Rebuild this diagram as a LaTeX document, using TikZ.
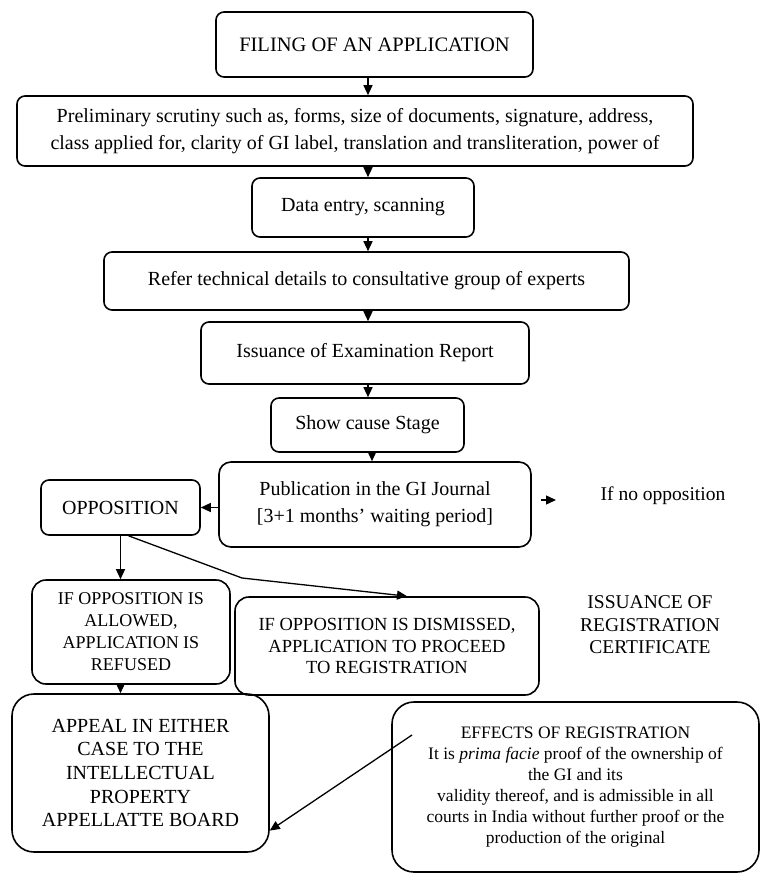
\documentclass[tikz,border=0pt]{standalone}
\usepackage{fontspec}
\setmainfont{Liberation Serif}
\usetikzlibrary{shapes.geometric, arrows, arrows.meta}
\tikzstyle{arrow} = [line width=1.3pt,->,>={Triangle[length=10pt,width=9pt]}]
\tikzstyle{stagebox} = [draw, line width=1.6pt, rounded corners=8pt, align=center, inner sep=0pt, font=\fontsize{20}{27}\selectfont]
\tikzstyle{capbox} = [stagebox, rounded corners=14pt, font=\fontsize{18}{22}\selectfont]
\tikzstyle{bigbox} = [stagebox, rounded corners=22pt]

\begin{document}
\begin{tikzpicture}[x=1pt,y=-1pt]
			\useasboundingbox (0,0) rectangle (760,883);
			%main column
			\node[stagebox, minimum width=317pt, minimum height=65pt, font=\fontsize{20.5}{27}\selectfont] (filing) at (374.5,44.5) {FILING OF AN APPLICATION};
			\node[stagebox, minimum width=676pt, minimum height=70pt] (prelim) at (355,131) {Preliminary scrutiny such as, forms, size of documents, signature, address,\\class applied for, clarity of GI label, translation and transliteration, power of};
			\node[stagebox, minimum width=222pt, minimum height=59pt] (data) at (363,207.5) {Data entry, scanning};
			\node[stagebox, minimum width=525pt, minimum height=58pt] (refer) at (366.5,281) {Refer technical details to consultative group of experts};
			\node[stagebox, minimum width=328pt, minimum height=62pt] (issue) at (365,353) {Issuance of Examination Report};
			\node[stagebox, minimum width=193pt, minimum height=54pt] (show) at (367.5,425) {Show cause Stage};
			\node[stagebox, minimum width=312pt, minimum height=85pt, rounded corners=12pt] (pub) at (375,504.5) {Publication in the GI Journal\\{}{[3+1 months' waiting period]}};
			
			%opposition branch
			\node[stagebox, minimum width=159pt, minimum height=55pt] (opp) at (120.5,507.5) {OPPOSITION};
			\node[capbox, minimum width=198pt, minimum height=104pt] (allowed) at (131,632) {IF OPPOSITION IS\\ALLOWED,\\APPLICATION IS\\REFUSED};
			\node[capbox, minimum width=304pt, minimum height=98pt, font=\fontsize{18.5}{21.5}\selectfont] (dismissed) at (387,646) {IF OPPOSITION IS DISMISSED,\\APPLICATION TO PROCEED\\TO REGISTRATION};
			\node[bigbox, minimum width=257pt, minimum height=158pt, font=\fontsize{20}{23.7}\selectfont] (appeal) at (140.5,773) {APPEAL IN EITHER\\CASE TO THE\\INTELLECTUAL\\PROPERTY\\APPELLATTE BOARD};
			
			%no opposition side
			\node[font=\fontsize{19.5}{23}\selectfont] (noopp) at (663,496) {If no opposition};
			\node[align=center, font=\fontsize{19.5}{22.5}\selectfont] (cert) at (650,625) {ISSUANCE OF\\REGISTRATION\\CERTIFICATE};
			\node[bigbox, minimum width=367pt, minimum height=170pt, font=\fontsize{17.5}{21}\selectfont] (effects) at (575.5,787) {EFFECTS OF REGISTRATION\\It is \textit{prima facie} proof of the ownership of\\the GI and its\\validity thereof, and is admissible in all\\courts in India without further proof or the\\production of the original};
			
			\coordinate (spine) at (368,0);
			\coordinate (oppbend) at (242,578);
			\coordinate (nostub) at (541,500);
			\coordinate (notip) at (556,500);
			\coordinate (fxstart) at (412,735);
			
			\draw[arrow] (filing.south -| spine) -- (prelim.north -| spine);
			\draw[arrow] (prelim.south -| spine) -- (data.north -| spine);
			\draw[arrow] (data.south -| spine) -- (refer.north -| spine);
			\draw[arrow] (refer.south -| spine) -- (issue.north -| spine);
			\draw[arrow] (issue.south -| spine) -- (show.north -| spine);
			\draw[arrow] ([xshift=4pt]show.south -| spine) -- ([xshift=4pt]pub.north -| spine);
			\draw[arrow] (pub.west |- opp.east) -- (opp.east);
			\draw[arrow] (nostub) -- (notip);
			\draw[arrow] (opp.south) -- (opp.south |- allowed.north);
			\draw[arrow] ([xshift=8pt]opp.south) -- (oppbend) -- ([xshift=20pt]dismissed.north);
			\draw[arrow] (allowed.south -| opp.south) -- (appeal.north -| opp.south);
			\draw[arrow] (fxstart) -- (appeal.-24);
			
		\end{tikzpicture}
\end{document}
